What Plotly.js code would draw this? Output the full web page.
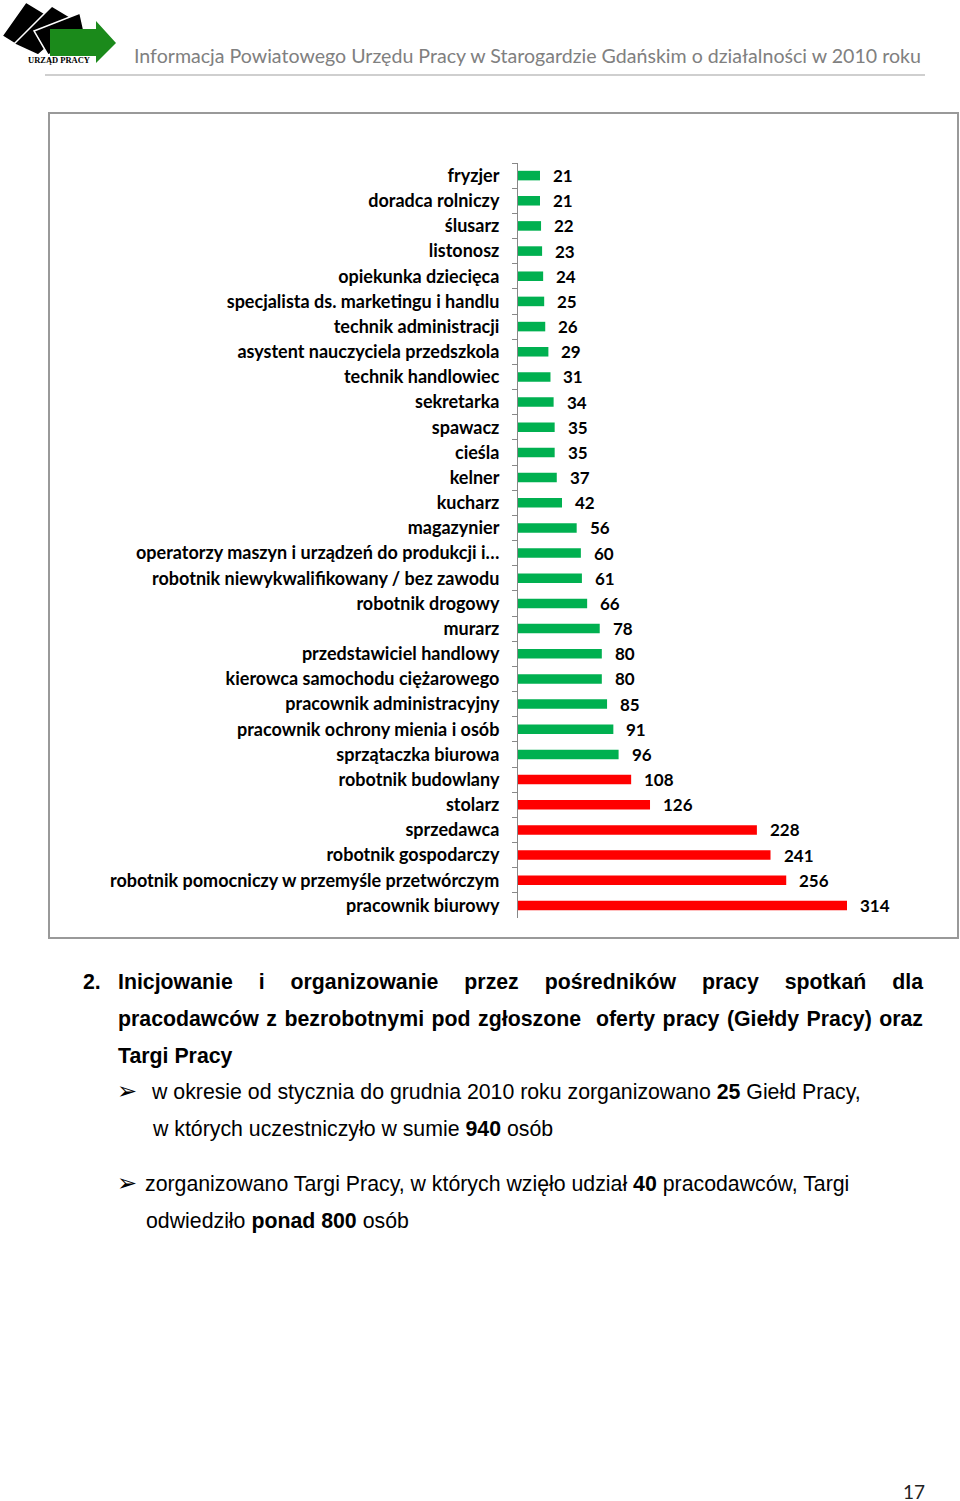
<!DOCTYPE html>
<html lang="pl">
<head>
<meta charset="utf-8">
<script src="https://cdn.plot.ly/plotly-3.0.1.min.js"></script>
<style>
  body { margin: 0; background: #fff; width: 960px; height: 1501px; position: relative; overflow: hidden;
         font-family: "Liberation Sans", Arial, sans-serif; color: #000; }
  .abs { position: absolute; white-space: nowrap; }
  .naglowek { font-family: Lato, "Open Sans", sans-serif; font-size: 19.6px; color: #808080; line-height: 20px; }
  .tekst { font-size: 21.3px; line-height: 20px; }
  .tytul { font-size: 21.3px; line-height: 20px; font-weight: bold; text-align: justify; text-align-last: justify; }
  .strzalka { font-family: "DejaVu Sans", sans-serif; font-size: 24px; line-height: 24px; }
  #ramka { position: absolute; left: 48px; top: 112px; width: 911px; height: 827px; box-sizing: border-box;
           border: 2px solid #999; }
  #wykres { position: absolute; left: 0; top: 0; width: 907px; height: 823px; }
</style>
</head>
<body>

<!-- logo -->
<svg class="abs" style="left:0;top:0" width="120" height="70" viewBox="0 0 120 70">
  <polygon points="2,36 26,2 49,16 23,49" fill="#000" stroke="#fff" stroke-width="1.5"/>
  <polygon points="14,44 52,6 77,21 38,55" fill="#000" stroke="#fff" stroke-width="1.5"/>
  <polygon points="34,31 80,13 86,40 48,55" fill="#000" stroke="#fff" stroke-width="1.5"/>
  <polygon points="50,29 96,29 96,21 116,43 96,63 96,56 50,56" fill="#1b8a1b"/>
  <text x="28" y="63" font-family="Liberation Serif" font-weight="bold" font-size="9" textLength="62" lengthAdjust="spacingAndGlyphs" fill="#000">URZĄD PRACY</text>
</svg>
<div class="abs naglowek" style="left:134px;top:46px;">Informacja Powiatowego Urzędu Pracy w Starogardzie Gdańskim o działalności w 2010 roku</div>
<div class="abs" style="left:45px;top:74px;width:880px;height:2px;background:#cfcfcf;"></div>

<div id="ramka"><div id="wykres"></div></div>

<!-- tekst pod wykresem -->
<div class="abs tekst" style="left:83px;top:972px;font-weight:bold;">2.</div>
<div class="abs tytul" style="left:118px;top:972px;width:805px;">Inicjowanie i organizowanie przez pośredników pracy spotkań dla</div>
<div class="abs tytul" style="left:118px;top:1009px;width:805px;">pracodawców z bezrobotnymi pod zgłoszone&nbsp; oferty pracy (Giełdy Pracy) oraz</div>
<div class="abs tekst" style="left:118px;top:1046px;font-weight:bold;">Targi Pracy</div>

<div class="abs strzalka" style="left:117px;top:1079px;">➢</div>
<div class="abs tekst" style="left:152px;top:1082px;">w okresie od stycznia do grudnia 2010 roku zorganizowano <b>25</b> Giełd Pracy,</div>
<div class="abs tekst" style="left:153px;top:1119px;">w których uczestniczyło w sumie <b>940</b> osób</div>

<div class="abs strzalka" style="left:117px;top:1171px;">➢</div>
<div class="abs tekst" style="left:145px;top:1174px;">zorganizowano Targi Pracy, w których wzięło udział <b>40</b> pracodawców, Targi</div>
<div class="abs tekst" style="left:146px;top:1211px;">odwiedziło <b>ponad 800</b> osób</div>

<div class="abs naglowek" style="left:903px;top:1482px;color:#222;font-size:19px;">17</div>

<script>
// Zawody z największą liczbą ofert pracy (od góry do dołu)
var zawody = [
  'fryzjer', 'doradca rolniczy', 'ślusarz', 'listonosz', 'opiekunka dziecięca',
  'specjalista ds. marketingu i handlu', 'technik administracji', 'asystent nauczyciela przedszkola',
  'technik handlowiec', 'sekretarka', 'spawacz', 'cieśla', 'kelner', 'kucharz', 'magazynier',
  'operatorzy maszyn i urządzeń do produkcji i…', 'robotnik niewykwalifikowany / bez zawodu',
  'robotnik drogowy', 'murarz', 'przedstawiciel handlowy', 'kierowca samochodu ciężarowego',
  'pracownik administracyjny', 'pracownik ochrony mienia i osób', 'sprzątaczka biurowa',
  'robotnik budowlany', 'stolarz', 'sprzedawca', 'robotnik gospodarczy',
  'robotnik pomocniczy w przemyśle przetwórczym', 'pracownik biurowy'
];
var liczba = [21, 21, 22, 23, 24, 25, 26, 29, 31, 34, 35, 35, 37, 42, 56,
              60, 61, 66, 78, 80, 80, 85, 91, 96, 108, 126, 228, 241, 256, 314];

// powyżej 100 ofert - kolor czerwony
var kolory = liczba.map(function (v) { return v > 100 ? '#ff0000' : '#00b050'; });

var trace = {
  type: 'bar',
  orientation: 'h',
  x: liczba,
  y: zawody,
  marker: { color: kolory },
  hoverinfo: 'x+y'
};

// etykiety z wartościami obok słupków
var etykiety = liczba.map(function (v, i) {
  return {
    x: v, y: zawody[i], text: String(v),
    xanchor: 'left', yanchor: 'middle', xshift: 11,
    showarrow: false,
    font: { family: 'Lato, sans-serif', size: 17, color: '#000', weight: 'bold' }
  };
});

var layout = {
  width: 907,
  height: 823,
  margin: { l: 468, r: 18, t: 49, b: 19 },
  paper_bgcolor: '#fff',
  plot_bgcolor: '#fff',
  showlegend: false,
  bargap: 0.62,
  xaxis: { range: [0, 401.8], visible: false, fixedrange: true },
  yaxis: {
    type: 'category',
    autorange: 'reversed',
    tickson: 'boundaries',
    ticks: 'outside',
    ticklen: 5,
    tickcolor: '#888',
    showline: true,
    linecolor: '#888',
    linewidth: 1,
    showgrid: false,
    zeroline: false,
    ticklabelstandoff: 14,
    tickfont: { family: 'Lato, sans-serif', size: 18, color: '#000', weight: 'bold' },
    fixedrange: true
  },
  annotations: etykiety
};

Plotly.newPlot('wykres', [trace], layout, { displayModeBar: false, staticPlot: true });
</script>
</body>
</html>
